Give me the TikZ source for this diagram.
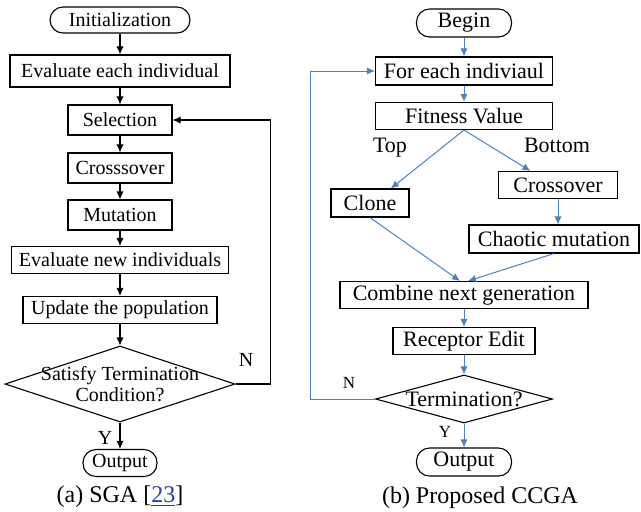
\documentclass[tikz,border=0pt]{standalone}
\usepackage{fontspec}
\setmainfont{Liberation Serif}
\usetikzlibrary{arrows.meta,shapes.geometric}
\definecolor{flowblue}{RGB}{79,129,189}
\definecolor{linkblue}{RGB}{40,60,170}

\begin{document}
\begin{tikzpicture}[x=0.5pt,y=-0.5pt,>={Latex[length=4pt,width=3.6pt]},line width=0.55pt,
  box node/.style={rectangle,draw,inner sep=0pt,font=\fontsize{10}{12}\selectfont},
  end node/.style={box node,rounded corners=6.5pt},
  cond node/.style={diamond,draw,inner sep=0pt},
  lbl node/.style={inner sep=0pt,font=\fontsize{10}{12}\selectfont},
  ccga font/.style={font=\fontsize{11}{13}\selectfont},
  small font/.style={font=\fontsize{8.5}{10}\selectfont},
  sga edge/.style={->,black},
  ccga edge/.style={->,flowblue,line width=0.5pt}]

  \useasboundingbox (0,0) rectangle (641,511);

  % (a) SGA
  \node[end node,minimum width=70pt,minimum height=13pt] (init) at (120,20) {Initialization};
  \node[box node,minimum width=110pt,minimum height=16pt] (evalA) at (120,71) {Evaluate each individual};
  \node[box node,minimum width=52pt,minimum height=15pt] (sel) at (120,120) {Selection};
  \node[box node,minimum width=52pt,minimum height=15pt] (crossA) at (120,168) {Crosssover};
  \node[box node,minimum width=52pt,minimum height=15pt] (mut) at (120,215) {Mutation};
  \node[box node,minimum width=108.5pt,minimum height=13.5pt] (evalB) at (120,260) {Evaluate new individuals};
  \node[box node,minimum width=97pt,minimum height=13.5pt] (upd) at (120,310) {Update the population};
  \node[cond node,minimum width=115pt,minimum height=38pt,
    label={[lbl node,align=center,font=\fontsize{10}{10.5}\selectfont]center:{Satisfy Termination\\Condition?}}] (cond) at (120,384) {};
  \node[end node,minimum width=37pt,minimum height=13.5pt] (outA) at (120,463) {Output};
  \node[lbl node] (yA) at (105,438) {Y};
  \node[lbl node] (nA) at (246,360) {N};
  \node[lbl node,font=\fontsize{12}{14}\selectfont] (capA) at (120,497) {(a) SGA [{\color{linkblue}\underline{23}}]};

  \path[sga edge]
    (init) edge (evalA)
    (evalA) edge (sel)
    (sel) edge (crossA)
    (crossA) edge (mut)
    (mut) edge (evalB)
    (evalB) edge (upd)
    (upd) edge (cond)
    (cond) edge (outA)
    ;
  \draw[sga edge] (cond.east) -- ++(35,0) |- (sel.east);

  % (b) Proposed CCGA
  \node[end node,ccga font,minimum width=47.5pt,minimum height=14pt] (begin) at (464,23) {Begin};
  \node[box node,ccga font,minimum width=88.5pt,minimum height=14pt] (each) at (464,71) {For each indiviaul};
  \node[box node,ccga font,minimum width=88.5pt,minimum height=13.5pt] (fit) at (464,116) {Fitness Value};
  \node[box node,ccga font,minimum width=59.5pt,minimum height=13.5pt] (crossB) at (558,185) {Crossover};
  \node[box node,ccga font,minimum width=39pt,minimum height=14pt] (clone) at (370,203) {Clone};
  \node[box node,ccga font,minimum width=85pt,minimum height=14pt] (chaos) at (554,239) {Chaotic mutation};
  \node[box node,ccga font,minimum width=124pt,minimum height=13.5pt] (comb) at (464,295) {Combine next generation};
  \node[box node,ccga font,minimum width=71pt,minimum height=13.5pt] (recept) at (464,341) {Receptor Edit};
  \node[cond node,minimum width=88.5pt,minimum height=24pt,
    label={[lbl node,ccga font]center:Termination?}] (term) at (464,399) {};
  \node[end node,ccga font,minimum width=47.5pt,minimum height=14pt] (outB) at (464,462) {Output};
  \node[lbl node,ccga font] (top) at (390,148) {Top};
  \node[lbl node,ccga font] (bottom) at (557,145) {Bottom};
  \node[lbl node,small font] (nB) at (349,383) {N};
  \node[lbl node,small font] (yB) at (445,432) {Y};
  \node[lbl node,font=\fontsize{12}{14}\selectfont] (capB) at (480,498) {(b) Proposed CCGA};

  \path[ccga edge]
    (begin) edge (each)
    (each) edge (fit)
    (fit.south) edge (clone.35)
    (fit.south) edge (crossB.153)
    (crossB) edge (crossB.south |- chaos.north)
    (clone.south) edge (comb.106)
    (chaos.south) edge (comb.74)
    (comb) edge (recept)
    (recept) edge (term)
    (term) edge (outB)
    ;
  \draw[ccga edge] (term.west) -- ++(-64,0) |- (each.west);

\end{tikzpicture}
\end{document}
